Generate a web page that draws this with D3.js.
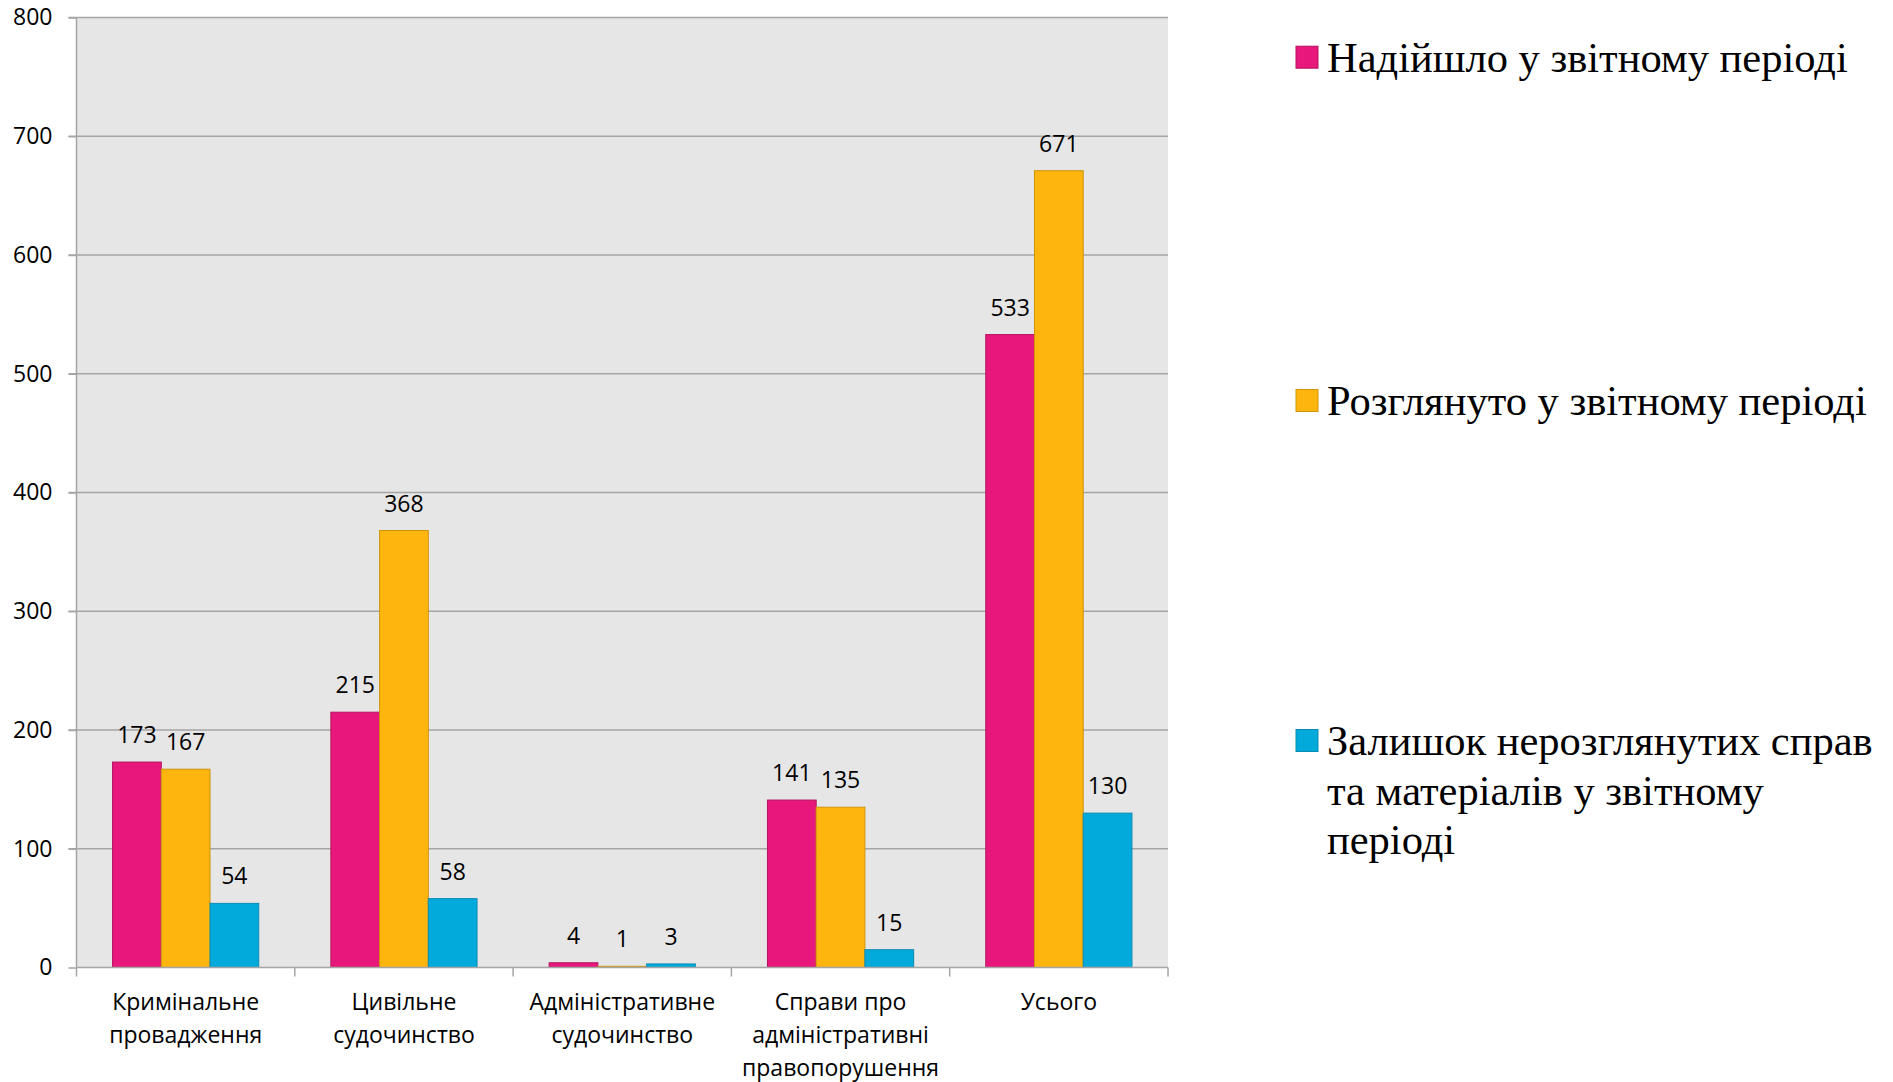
<!DOCTYPE html>
<html>
<head>
<meta charset="utf-8">
<script src="https://cdn.jsdelivr.net/npm/d3@7"></script>
<style>
  body { margin: 0; background: #fff; }
  svg { display: block; }
</style>
</head>
<body>
<div id="chart"></div>
<script>
// data
const categories = [
    ["Кримінальне", "провадження"],
    ["Цивільне", "судочинство"],
    ["Адміністративне", "судочинство"],
    ["Справи про", "адміністративні", "правопорушення"],
    ["Усього"]
];
const seriesNames = [
    "Надійшло у звітному періоді",
    "Розглянуто у звітному періоді",
    "Залишок нерозглянутих справ та матеріалів у звітному періоді"
];
const received = [173, 215, 4, 141, 533];
const reviewed = [167, 368, 1, 135, 671];
const remaining = [54, 58, 3, 15, 130];
const yTicks = [0, 100, 200, 300, 400, 500, 600, 700, 800];
const legendLines = [
    ["Надійшло у звітному періоді"],
    ["Розглянуто у звітному періоді"],
    ["Залишок нерозглянутих справ", "та матеріалів у звітному", "періоді"]
];

const fills = ["#E8177B", "#FEB60F", "#01AADB"];
const strokes = ["#B5125F", "#CF930C", "#0A8BB3"];

const width = 1893, height = 1082;
const margin = {top: 17.5, left: 76.5, right: 1893 - 1168, bottom: 1082 - 967.5};
const innerW = width - margin.left - margin.right;
const innerH = height - margin.top - margin.bottom;

const svg = d3.select("#chart").append("svg")
    .attr("width", width)
    .attr("height", height);

const g = svg.append("g")
    .attr("transform", "translate(" + margin.left + "," + margin.top + ")");

const catKeys = categories.map((d, i) => i);
const x0 = d3.scaleBand().domain(catKeys).range([0, innerW]).padding(0);
const x1 = d3.scaleBand().domain([0, 1, 2]).range([0, x0.bandwidth()])
    .paddingInner(0).paddingOuter(0.74);
const y = d3.scaleLinear().domain([0, 800]).range([innerH, 0]);

// plot background
g.append("rect")
    .attr("width", innerW)
    .attr("height", innerH)
    .attr("fill", "#E6E6E6");

// gridlines
g.append("g")
    .selectAll("line")
    .data(yTicks.filter(d => d > 0))
    .join("line")
    .attr("x1", -8).attr("x2", innerW)
    .attr("y1", d => y(d)).attr("y2", d => y(d))
    .attr("stroke", "#A5A5A5")
    .attr("stroke-width", 1.5);

// y axis
const yAxis = g.append("g")
    .call(d3.axisLeft(y).tickValues(yTicks).tickSize(8).tickPadding(16));
yAxis.select(".domain").attr("stroke", "#A5A5A5").attr("stroke-width", 1.5)
    .attr("d", "M0," + innerH + "V0");
yAxis.selectAll(".tick line").attr("stroke", "#A5A5A5").attr("stroke-width", 1.5);
yAxis.selectAll(".tick text")
    .attr("font-family", "'Open Sans', sans-serif")
    .attr("font-size", 23)
    .attr("fill", "#000");

// bars
const rows = catKeys.map(i => [received[i], reviewed[i], remaining[i]]);
const groups = g.append("g")
    .selectAll("g")
    .data(rows)
    .join("g")
    .attr("transform", (d, i) => "translate(" + x0(i) + ",0)");

groups.selectAll("rect")
    .data(d => d.map((v, s) => ({v, s})))
    .join("rect")
    .attr("x", d => x1(d.s))
    .attr("width", x1.bandwidth())
    .attr("y", d => y(d.v))
    .attr("height", d => y(0) - y(d.v))
    .attr("fill", d => fills[d.s])
    .attr("stroke", d => strokes[d.s])
    .attr("stroke-width", 1);

groups.selectAll("text")
    .data(d => d.map((v, s) => ({v, s})))
    .join("text")
    .attr("x", d => x1(d.s) + x1.bandwidth() / 2)
    .attr("y", d => y(d.v) - 19)
    .attr("text-anchor", "middle")
    .attr("font-family", "'Open Sans', sans-serif")
    .attr("font-size", 23)
    .text(d => d.v);

// x axis
const xAxis = g.append("g")
    .attr("transform", "translate(0," + innerH + ")");
xAxis.append("line")
    .attr("x1", 0).attr("x2", innerW)
    .attr("stroke", "#A5A5A5").attr("stroke-width", 1.5);
xAxis.selectAll(".xtick")
    .data(d3.range(categories.length + 1))
    .join("line")
    .attr("class", "xtick")
    .attr("x1", d => d * x0.step()).attr("x2", d => d * x0.step())
    .attr("y1", 0).attr("y2", 9)
    .attr("stroke", "#A5A5A5").attr("stroke-width", 1.5);

xAxis.selectAll(".xlabel")
    .data(categories)
    .join("text")
    .attr("class", "xlabel")
    .attr("text-anchor", "middle")
    .attr("font-family", "'Open Sans', sans-serif")
    .attr("font-size", 23)
    .attr("transform", (d, i) => "translate(" + (x0(i) + x0.bandwidth() / 2) + ",0)")
    .selectAll("tspan")
    .data(d => d)
    .join("tspan")
    .attr("x", 0)
    .attr("y", (d, i) => 42 + i * 33)
    .text(d => d);

// legend
const legendX = 1296, legendBase = [71.7, 415, 755];
const legend = svg.append("g");
legendLines.forEach((lines, s) => {
    legend.append("rect")
        .attr("x", legendX)
        .attr("y", legendBase[s] - 25.5)
        .attr("width", 22)
        .attr("height", 22)
        .attr("fill", fills[s])
        .attr("stroke", strokes[s])
        .attr("stroke-width", 1);
    legend.append("text")
        .attr("font-family", "'Liberation Serif', 'Times New Roman', serif")
        .attr("font-size", 42.5)
        .selectAll("tspan")
        .data(lines)
        .join("tspan")
        .attr("x", legendX + 31)
        .attr("y", (d, i) => legendBase[s] + i * 49.5)
        .text(d => d);
});
</script>
</body>
</html>
